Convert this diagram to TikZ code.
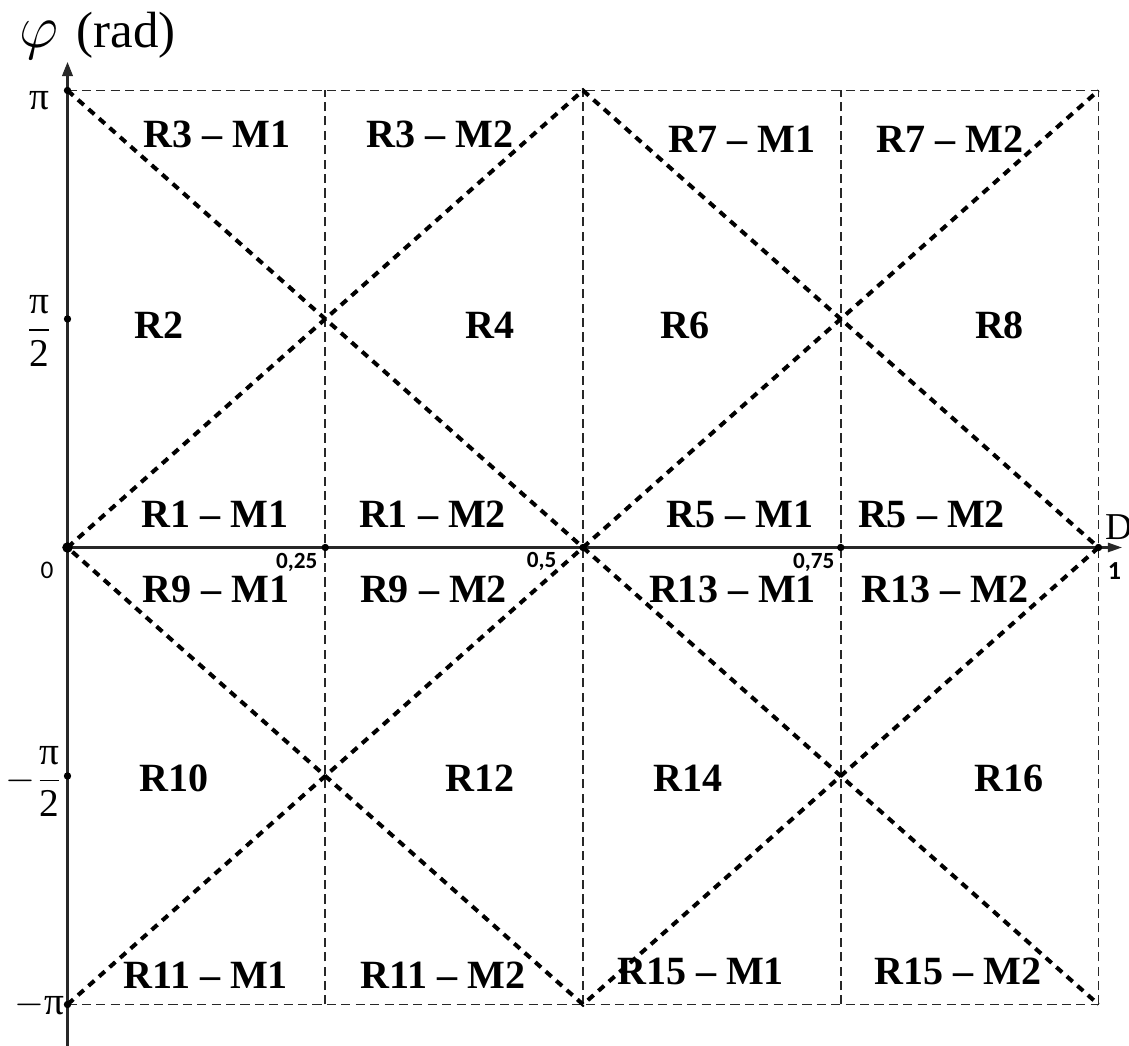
\documentclass[tikz,border=0pt]{standalone}
\usepackage{amsmath}
\usepackage{fontspec}
\setmainfont{Liberation Serif}
\newfontfamily\calibrifont{Carlito}
\usepackage{tikz}
\usetikzlibrary{arrows.meta}
\definecolor{axisgray}{RGB}{40, 40, 40}
\newcommand{\axisdot}[3][1.05pt]{
\fill[black] (#2,#3) circle (#1);
}
\tikzset{
    gridline/.style={axisgray, line width=0.45pt, dash pattern=on 2.6pt off 1.5pt},
    borderline/.style={black, line width=1.15pt, dash pattern=on 2.2pt off 1.8pt},
    axisline/.style={axisgray, line width=0.6pt},
    regionlabel/.style={anchor=base, inner sep=0pt, font=\fontsize{11.4}{13}\selectfont\bfseries},
    ticklabel/.style={inner sep=0pt, font=\fontsize{11.2}{13}\selectfont},
    smalltick/.style={inner sep=0pt, font=\calibrifont\fontsize{6.6}{8}\selectfont\bfseries}
}

\begin{document}
\begin{tikzpicture}[x=10.31cm, y=4.57cm]
    \useasboundingbox (-0.06547,-1.09081) rectangle (1.02958,1.19803);
    % grid
    \draw[gridline] (0,1) -- (1,1);
    \draw[gridline] (0,-1) -- (1,-1);
    \foreach \x in {0.25,0.5,0.75,1}
    {
        \draw[gridline] (\x,-1) -- (\x,1);
    }
    % axes
    \draw[axisline, -{Triangle[length=4pt, width=3pt]}] (0,-1.0908) -- (0,1.0624);
    \draw[axisline, -{Triangle[length=4pt, width=2.6pt]}] (0,0) -- (1.0228,0);
    % borders between regions
    \draw[borderline] (0,1) -- (1,-1);
    \draw[borderline] (0,-1) -- (1,1);
    \draw[borderline] (0,0) -- (0.5,1) -- (1,0) -- (0.5,-1) -- cycle;
    \foreach \y in {1,0.5,-0.5,-1}
    {
        \axisdot{0}{\y}
    }
    \foreach \x in {0.25,0.5,0.75,1}
    {
        \axisdot{\x}{0}
    }
    \axisdot[1.5pt]{0}{0}
    % axis labels
    \node[anchor=base west, inner sep=0pt, font=\fontsize{14.5}{17}\selectfont] (phi) at (-0.047,1.093) {\fontsize{17}{19}\selectfont$\varphi$\hspace{0.3em}\fontsize{14.5}{17}\selectfont(rad)};
    \node[anchor=base west, inner sep=0pt, font=\fontsize{10.8}{13}\selectfont] (dlab) at (1.0063,0.0164) {D};
    \node[ticklabel] (pi) at (-0.0276,0.977) {π};
    \node[ticklabel] (halfpi) at (-0.0276,0.474) {$\displaystyle\frac{\mbox{π}}{\mbox{2}}$};
    \node[ticklabel] (mhalfpi) at (-0.032,-0.512) {$-\displaystyle\frac{\mbox{π}}{\mbox{2}}$};
    \node[ticklabel] (mpi) at (-0.027,-1.0) {$-$π};
    \node[inner sep=0pt, font=\calibrifont\fontsize{7.2}{8}\selectfont] (zero) at (-0.0199,-0.049) {0};
    \node[smalltick, anchor=base east] (q1) at (0.243,-0.047) {0,25};
    \node[smalltick, anchor=base east] (q2) at (0.4748,-0.0427) {0,5};
    \node[smalltick, anchor=base east] (q3) at (0.7444,-0.047) {0,75};
    \node[smalltick, anchor=base west, font=\calibrifont\fontsize{7.4}{8}\selectfont\bfseries] (q4) at (1.0083,-0.071) {1};
    % region labels
    \foreach \px/\py/\txt [count=\i] in {
        0.145/0.876/R3 – M1, 0.361/0.876/R3 – M2, 0.654/0.865/R7 – M1, 0.856/0.865/R7 – M2,
        0.089/0.458/R2, 0.410/0.458/R4, 0.599/0.458/R6, 0.904/0.458/R8,
        0.143/0.043/R1 – M1, 0.354/0.043/R1 – M2, 0.652/0.043/R5 – M1, 0.838/0.043/R5 – M2,
        0.144/-0.121/R9 – M1, 0.355/-0.121/R9 – M2, 0.645/-0.121/R13 – M1, 0.851/-0.121/R13 – M2,
        0.103/-0.535/R10, 0.400/-0.535/R12, 0.602/-0.535/R14, 0.913/-0.535/R16,
        0.134/-0.964/R11 – M1, 0.364/-0.964/R11 – M2, 0.614/-0.957/R15 – M1, 0.864/-0.957/R15 – M2}
    {
        \node[regionlabel] (reg\i) at (\px,\py) {\txt};
    }
\end{tikzpicture}
\end{document}
